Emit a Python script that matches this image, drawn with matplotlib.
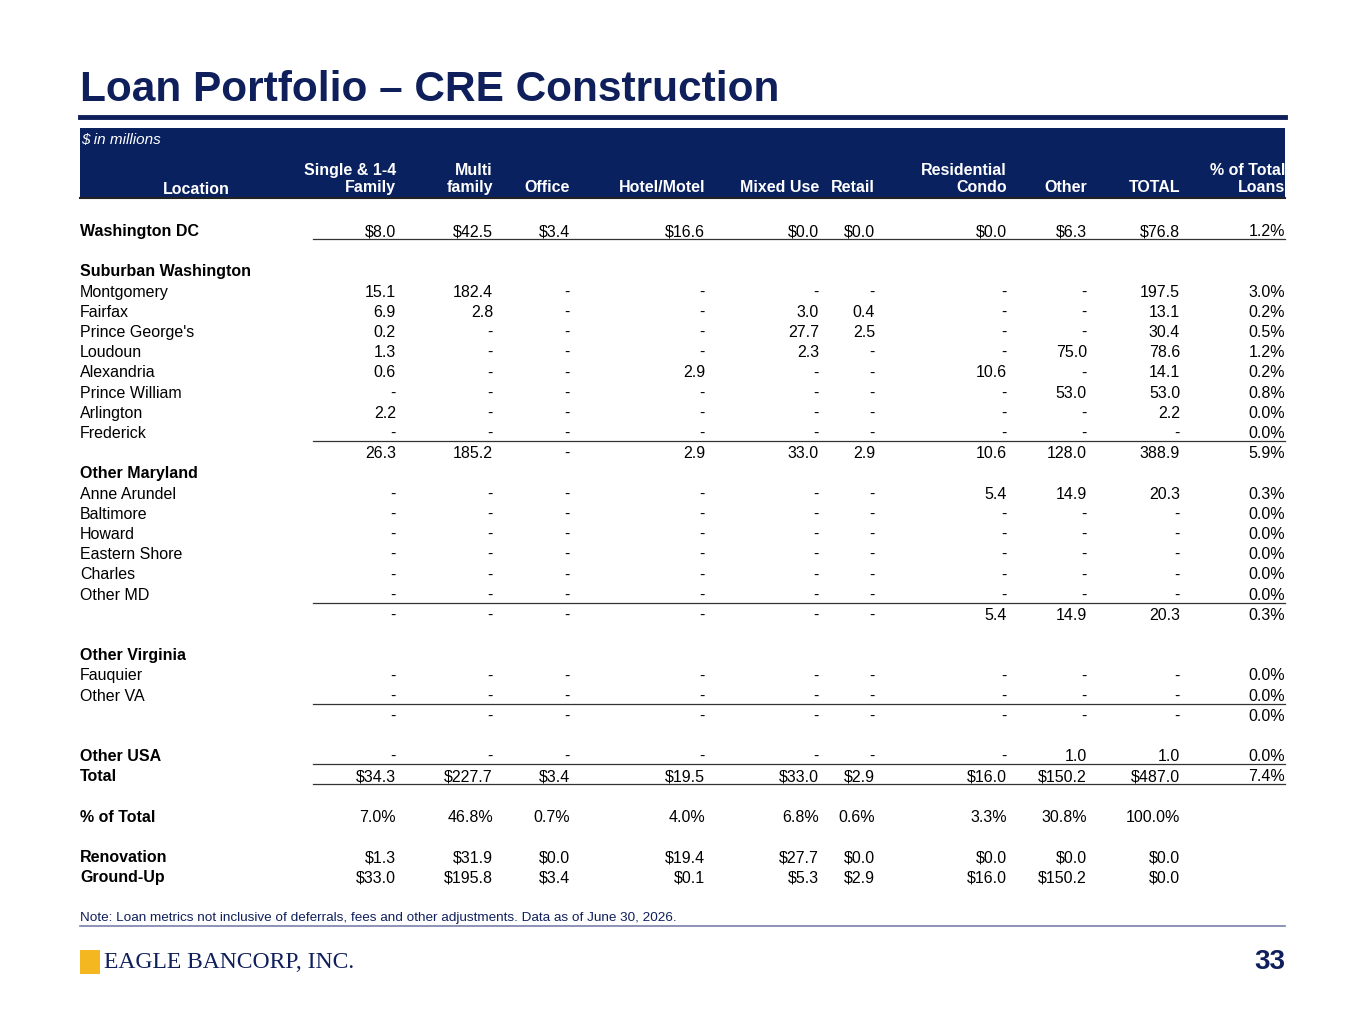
import matplotlib.pyplot as plt
from matplotlib.patches import Rectangle

plt.rcParams['font.family'] = ['Liberation Sans', 'DejaVu Sans']

NAVY = '#0f1f5c'
HEAD = '#0a2160'

columns = ['Single & 1-4\nFamily', 'Multi\nfamily', 'Office', 'Hotel/Motel', 'Mixed Use',
           'Retail', 'Residential\nCondo', 'Other', 'TOTAL', '% of Total\nLoans']
col_right = [396, 493, 570, 705, 819, 875, 1007, 1087, 1180, 1285]

D = '-'
washington_dc = ['$8.0', '$42.5', '$3.4', '$16.6', '$0.0', '$0.0', '$0.0', '$6.3', '$76.8', '1.2%']
suburban = {
    'Montgomery':     ['15.1', '182.4', D, D, D, D, D, D, '197.5', '3.0%'],
    'Fairfax':        ['6.9', '2.8', D, D, '3.0', '0.4', D, D, '13.1', '0.2%'],
    "Prince George's": ['0.2', D, D, D, '27.7', '2.5', D, D, '30.4', '0.5%'],
    'Loudoun':        ['1.3', D, D, D, '2.3', D, D, '75.0', '78.6', '1.2%'],
    'Alexandria':     ['0.6', D, D, '2.9', D, D, '10.6', D, '14.1', '0.2%'],
    'Prince William': [D, D, D, D, D, D, D, '53.0', '53.0', '0.8%'],
    'Arlington':      ['2.2', D, D, D, D, D, D, D, '2.2', '0.0%'],
    'Frederick':      [D, D, D, D, D, D, D, D, D, '0.0%'],
}
suburban_total = ['26.3', '185.2', D, '2.9', '33.0', '2.9', '10.6', '128.0', '388.9', '5.9%']
other_md = {
    'Anne Arundel':  [D, D, D, D, D, D, '5.4', '14.9', '20.3', '0.3%'],
    'Baltimore':     [D] * 9 + ['0.0%'],
    'Howard':        [D] * 9 + ['0.0%'],
    'Eastern Shore': [D] * 9 + ['0.0%'],
    'Charles':       [D] * 9 + ['0.0%'],
    'Other MD':      [D] * 9 + ['0.0%'],
}
other_md_total = [D, D, D, D, D, D, '5.4', '14.9', '20.3', '0.3%']
other_va = {
    'Fauquier': [D] * 9 + ['0.0%'],
    'Other VA': [D] * 9 + ['0.0%'],
}
other_va_total = [D] * 9 + ['0.0%']
other_usa = [D, D, D, D, D, D, D, '1.0', '1.0', '0.0%']
total = ['$34.3', '$227.7', '$3.4', '$19.5', '$33.0', '$2.9', '$16.0', '$150.2', '$487.0', '7.4%']
pct_total = ['7.0%', '46.8%', '0.7%', '4.0%', '6.8%', '0.6%', '3.3%', '30.8%', '100.0%', '']
renovation = ['$1.3', '$31.9', '$0.0', '$19.4', '$27.7', '$0.0', '$0.0', '$0.0', '$0.0', '']
ground_up = ['$33.0', '$195.8', '$3.4', '$0.1', '$5.3', '$2.9', '$16.0', '$150.2', '$0.0', '']

# rows: (label, values, bold, underline)
rows = [('Washington DC', washington_dc, True, True), None,
        ('Suburban Washington', None, True, False)]
items = list(suburban.items())
for i, (k, v) in enumerate(items):
    rows.append((k, v, False, i == len(items) - 1))
rows.append(('', suburban_total, False, False))
rows.append(('Other Maryland', None, True, False))
items = list(other_md.items())
for i, (k, v) in enumerate(items):
    rows.append((k, v, False, i == len(items) - 1))
rows += [('', other_md_total, False, False), None, ('Other Virginia', None, True, False)]
items = list(other_va.items())
for i, (k, v) in enumerate(items):
    rows.append((k, v, False, i == len(items) - 1))
rows += [('', other_va_total, False, False), None,
         ('Other USA', other_usa, True, True), ('Total', total, True, True), None,
         ('% of Total', pct_total, True, False), None,
         ('Renovation', renovation, True, False), ('Ground-Up', ground_up, True, False)]

W, H = 1365, 1024
fig = plt.figure(figsize=(W / 100, H / 100), dpi=100)
ax = fig.add_axes([0, 0, 1, 1])
ax.set_xlim(0, W)
ax.set_ylim(H, 0)
ax.axis('off')

ax.text(80, 90, 'Loan Portfolio – CRE Construction', fontsize=30.5, fontweight='bold',
        color=NAVY, va='center', ha='left')
ax.plot([80, 1285], [117, 117], color=NAVY, lw=3.5)
ax.add_patch(Rectangle((80, 128), 1205, 70, color=HEAD, lw=0))
ax.plot([80, 1285], [198, 198], color='#222222', lw=1.5)
ax.text(81, 140, '$ in millions', fontsize=11, style='italic', color='white', va='center')
ax.text(196, 190, 'Location', fontsize=11.5, fontweight='bold', color='white', ha='center', va='center')
for c, x in zip(columns, col_right):
    ax.text(x, 195, c, fontsize=11.5, fontweight='bold', color='white', ha='right',
            va='bottom', linespacing=1.2)

y0, dy = 231.5, 20.2
for i, r in enumerate(rows):
    if r is None:
        continue
    y = y0 + i * dy
    label, vals, bold, ul = r
    ax.text(80, y, label, fontsize=11.5, fontweight='bold' if bold else 'normal',
            color='black', va='center')
    if vals:
        for v, x in zip(vals, col_right):
            ax.text(x, y, v, fontsize=11.5, color='black', ha='right', va='center')
    if ul:
        ax.plot([313, 1285], [y + 7.5, y + 7.5], color='#333333', lw=0.9)

ax.text(80, 918, 'Note: Loan metrics not inclusive of deferrals, fees and other adjustments. Data as of June 30, 2026.',
        fontsize=9.7, color=NAVY, va='center')
ax.plot([80, 1285], [926, 926], color='#7a7fa8', lw=1.2)
ax.add_patch(Rectangle((80, 950), 20, 24, color='#f5b71f', lw=0))
ax.text(104, 962, 'EAGLE BANCORP, INC.', fontsize=17, color=NAVY, va='center',
        family=['Liberation Serif', 'DejaVu Serif'])
ax.text(1285, 962, '33', fontsize=20, fontweight='bold', color=NAVY, ha='right', va='center')

fig.savefig('out.png', dpi=100)
